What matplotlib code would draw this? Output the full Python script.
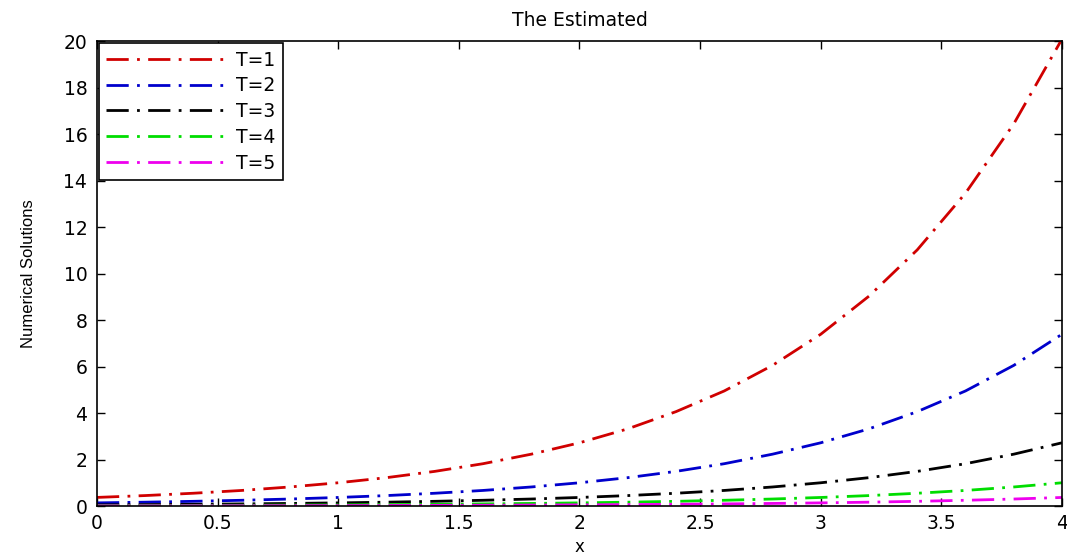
import numpy as np
import matplotlib.pyplot as plt

# values
x = [0.0, 0.2, 0.4, 0.6, 0.8, 1.0, 1.2, 1.4, 1.6, 1.8, 2.0,
     2.2, 2.4, 2.6, 2.8, 3.0, 3.2, 3.4, 3.6, 3.8, 4.0]
t1 = [0.37, 0.45, 0.55, 0.67, 0.82, 1.00, 1.22, 1.49, 1.82, 2.23, 2.72,
      3.32, 4.06, 4.95, 6.05, 7.39, 9.03, 11.02, 13.46, 16.44, 20.09]
t2 = [0.135, 0.165, 0.202, 0.247, 0.301, 0.368, 0.449, 0.549, 0.670, 0.819, 1.00,
      1.22, 1.49, 1.82, 2.23, 2.72, 3.32, 4.06, 4.95, 6.05, 7.39]
t3 = [0.050, 0.061, 0.074, 0.091, 0.111, 0.135, 0.165, 0.202, 0.247, 0.301, 0.368,
      0.449, 0.549, 0.670, 0.819, 1.00, 1.22, 1.49, 1.82, 2.23, 2.72]
t4 = [0.018, 0.022, 0.027, 0.033, 0.041, 0.050, 0.061, 0.074, 0.091, 0.111, 0.135,
      0.165, 0.202, 0.247, 0.301, 0.368, 0.449, 0.549, 0.670, 0.819, 1.00]
t5 = [0.007, 0.008, 0.010, 0.012, 0.015, 0.018, 0.022, 0.027, 0.033, 0.041, 0.050,
      0.061, 0.074, 0.091, 0.111, 0.135, 0.165, 0.202, 0.247, 0.301, 0.368]

series = [t1, t2, t3, t4, t5]
labels = ['T=1', 'T=2', 'T=3', 'T=4', 'T=5']
colors = ['#d00000', '#0000cc', '#000000', '#00dd00', '#ee00ee']

plt.rcParams['font.family'] = ['DejaVu Sans']

fig = plt.figure(figsize=(10.67, 5.56), dpi=100)
ax = fig.add_axes([0.0909, 0.0899, 0.9044, 0.8361])

for y, lab, c in zip(series, labels, colors):
    ax.plot(x, y, color=c, lw=2.0, dashes=(8, 3, 1, 3), label=lab)

ax.set_xlim(0, 4)
ax.set_ylim(0, 20)
ax.set_xticks(np.arange(0, 4.01, 0.5))
ax.set_xticklabels(['0', '0.5', '1', '1.5', '2', '2.5', '3', '3.5', '4'])
ax.set_yticks(np.arange(0, 21, 2))
ax.tick_params(direction='in', length=6, width=1, labelsize=13.5,
               top=True, right=True)
ax.tick_params(axis='x', pad=6)
ax.tick_params(axis='y', pad=7)
for s in ax.spines.values():
    s.set_linewidth(1.2)

ax.set_title('The Estimated', fontsize=13.5, pad=11)
ax.set_xlabel('x', fontsize=12, labelpad=3)
ax.set_ylabel('Numerical Solutions', fontsize=12,
              family=['Liberation Sans Narrow', 'Liberation Sans'], labelpad=20)

leg = ax.legend(loc='upper left', fontsize=13.5, borderaxespad=0.1,
                fancybox=False, framealpha=1, edgecolor='black',
                handlelength=6.3, labelspacing=0.36, handletextpad=0.6,
                borderpad=0.4)
leg.get_frame().set_linewidth(1.2)

plt.savefig('out.png', dpi=100)
